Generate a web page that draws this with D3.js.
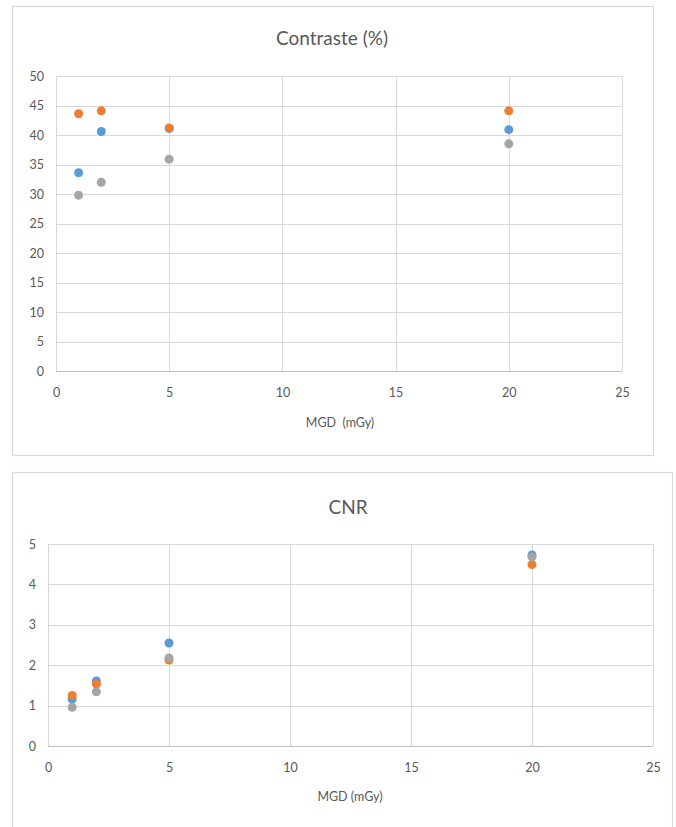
<!DOCTYPE html>
<html><head><meta charset="utf-8">
<script src="https://cdn.jsdelivr.net/npm/d3@7"></script>
<style>body{margin:0;background:#fff;} svg{display:block;} text{font-family:Lato,"Open Sans",sans-serif;fill:#595959;}</style>
</head><body>
<svg id="c" width="676" height="827"></svg>
<script>
const mgd = [1, 2, 5, 20];
const contrasteBlue = [33.6, 40.6, 41.1, 40.9];
const contrasteOrange = [43.6, 44.1, 41.2, 44.1];
const contrasteGray = [29.8, 32.0, 35.9, 38.5];
const cnrBlue = [1.16, 1.61, 2.55, 4.73];
const cnrOrange = [1.25, 1.53, 2.13, 4.49];
const cnrGray = [0.96, 1.34, 2.18, 4.68];
const xTicks = [0, 5, 10, 15, 20, 25];
const contrasteTicks = [0,5,10,15,20,25,30,35,40,45,50];
const cnrTicks = [0,1,2,3,4,5];
const colors = ["#5B9BD5", "#ED7D31", "#A5A5A5"];

const svg = d3.select("#c");

function chart(o){
  svg.append("rect").attr("x",o.box[0]+0.5).attr("y",o.box[1]+0.5).attr("width",o.box[2]).attr("height",o.box[3])
    .attr("fill","#fff").attr("stroke","#d9d9d9").attr("stroke-width",1.2);
  const x = d3.scaleLinear().domain([0,25]).range([o.px0,o.px1]);
  const y = d3.scaleLinear().domain([0,o.ymax]).range([o.py0,o.py1]);
  const g = svg.append("g");
  g.selectAll(".hg").data(o.yTicks).join("line")
    .attr("x1",o.px0).attr("x2",o.px1).attr("y1",d=>Math.round(y(d))+0.5).attr("y2",d=>Math.round(y(d))+0.5)
    .attr("stroke","#d9d9d9").attr("stroke-width",1);
  g.selectAll(".vg").data(xTicks).join("line")
    .attr("y1",o.py0).attr("y2",o.py1).attr("x1",d=>Math.round(x(d))+0.5).attr("x2",d=>Math.round(x(d))+0.5)
    .attr("stroke","#d9d9d9").attr("stroke-width",1);
  g.append("line").attr("x1",o.px0).attr("x2",o.px1).attr("y1",Math.round(o.py0)+0.5).attr("y2",Math.round(o.py0)+0.5).attr("stroke","#bfbfbf");
  const xa = svg.append("g").attr("transform",`translate(0,${o.py0})`)
    .call(d3.axisBottom(x).tickValues(xTicks).tickFormat(d3.format("d")).tickSize(0).tickPadding(o.xpad));
  const ya = svg.append("g").attr("transform",`translate(${o.px0},0)`)
    .call(d3.axisLeft(y).tickValues(o.yTicks).tickFormat(d3.format("d")).tickSize(0).tickPadding(o.ypad));
  [xa,ya].forEach(a=>{a.select(".domain").remove(); a.selectAll("text").style("font-size","12.5px").style("fill","#595959").style("font-family","Lato,'Open Sans',sans-serif");});
  svg.append("text").attr("x",o.tx).attr("y",o.ty).attr("text-anchor","middle").style("font-size","19px").text(o.title);
  svg.append("text").attr("x",o.ax).attr("y",o.ay).attr("text-anchor","middle").style("font-size","12.5px").attr("xml:space","preserve").text(o.axTitle);
  o.series.forEach((s,i)=>{
    svg.append("g").selectAll("circle").data(s).join("circle")
      .attr("cx",(d,j)=>x(mgd[j])).attr("cy",d=>y(d)).attr("r",4.5).attr("fill",colors[i]);
  });
}

chart({box:[12,6,641,449], px0:56, px1:622, py0:371, py1:76, ymax:50, yTicks:contrasteTicks,
  xpad:17, ypad:12, title:"Contraste (%)", tx:332, ty:45, axTitle:"MGD  (mGy)", ax:340, ay:427,
  series:[contrasteBlue, contrasteOrange, contrasteGray]});
chart({box:[12,472,660,400], px0:48, px1:653, py0:746, py1:544, ymax:5, yTicks:cnrTicks,
  xpad:17, ypad:12, title:"CNR", tx:348, ty:514, axTitle:"MGD (mGy)", ax:350, ay:801,
  series:[cnrBlue, cnrOrange, cnrGray]});
</script>
</body></html>
